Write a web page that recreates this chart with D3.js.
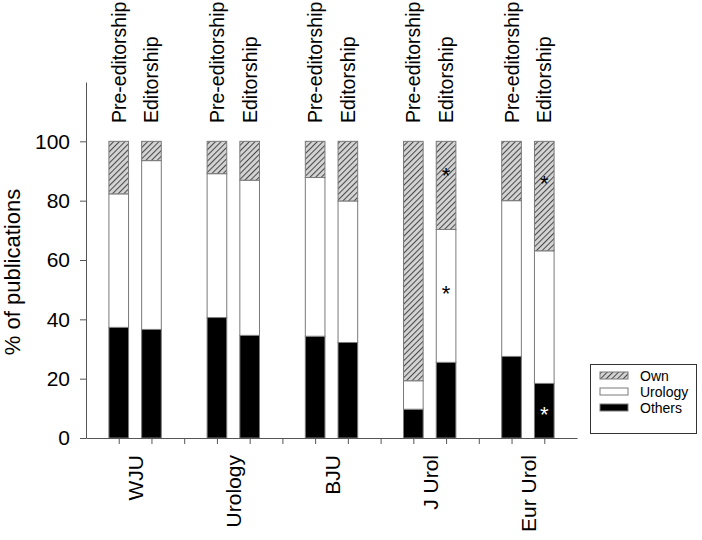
<!DOCTYPE html>
<html>
<head>
<meta charset="utf-8">
<script src="https://cdn.jsdelivr.net/npm/d3@7"></script>
<style>
    body { margin: 0; background: #fff; }
    text { font-family: "Liberation Sans", Arial, sans-serif; }
</style>
</head>
<body>
<svg id="chart" width="702" height="540"></svg>
<script>
// Journals and periods
const journals = ['WJU', 'Urology', 'BJU', 'J Urol', 'Eur Urol'];
const periods = ['Pre-editorship', 'Editorship'];
const keys = ['Others', 'Urology', 'Own'];

// % of publications, one value per bar (journal x period)
const others  = [37.3, 36.6, 40.6, 34.6, 34.3, 32.2, 9.7, 25.5, 27.5, 18.4];
const urology = [45.0, 56.9, 48.5, 52.3, 53.5, 47.7, 9.6, 44.8, 52.5, 44.7];
const own     = [17.7, 6.5, 10.9, 13.1, 12.2, 20.1, 80.7, 29.7, 20.0, 36.9];

const yTicks = [0, 20, 40, 60, 80, 100];

// significance markers: bar index, segment, height
const starBar = [7, 7, 9, 9];
const starSeg = ['Own', 'Urology', 'Own', 'Others'];
const starVal = [89.6, 49.8, 86.9, 9.1];

const svg = d3.select('#chart');

// each journal takes 3 slots: two bars and a gap
const barPos = i => Math.floor(i / 2) * 3 + (i % 2) + 1;

const rows = others.map((v, i) => ({
    journal: journals[Math.floor(i / 2)],
    period: periods[i % 2],
    pos: barPos(i),
    Others: v,
    Urology: urology[i],
    Own: own[i],
}));

const x = d3.scaleLinear().domain([0, 15]).range([86, 577]);
const y = d3.scaleLinear().domain([0, 120]).range([438, 82]);
const bw = (x(1) - x(0)) * 0.6;

// hatch pattern for "Own"
const defs = svg.append('defs');
const pat = defs.append('pattern')
    .attr('id', 'hatch')
    .attr('patternUnits', 'userSpaceOnUse')
    .attr('width', 4).attr('height', 4)
    .attr('patternTransform', 'rotate(45)');
pat.append('rect').attr('width', 4).attr('height', 4).attr('fill', '#d4d4d4');
pat.append('line').attr('x1', 0.5).attr('y1', 0).attr('x2', 0.5).attr('y2', 4)
    .attr('stroke', '#4a4a4a').attr('stroke-width', 1.1);

const fills = { Others: '#000', Urology: '#fff', Own: 'url(#hatch)' };

const stacked = d3.stack().keys(keys)(rows);

svg.append('g')
    .selectAll('g')
    .data(stacked)
    .join('g')
    .attr('fill', d => fills[d.key])
    .selectAll('rect')
    .data(d => d)
    .join('rect')
    .attr('x', d => x(d.data.pos) - bw / 2)
    .attr('y', d => y(d[1]))
    .attr('width', bw)
    .attr('height', d => y(d[0]) - y(d[1]))
    .attr('stroke', '#7a7a7a')
    .attr('stroke-width', 1);

// axes
const yAxis = svg.append('g')
    .attr('transform', `translate(${x(0)},0)`)
    .call(d3.axisLeft(y).tickValues(yTicks).tickSize(6).tickPadding(10).tickSizeOuter(0));
yAxis.select('.domain').attr('stroke', '#555');
yAxis.selectAll('.tick line').attr('stroke', '#555');
yAxis.selectAll('.tick text').attr('font-size', 21).attr('fill', '#000')
    .attr('font-family', '"Liberation Sans", Arial, sans-serif');

const xAxis = svg.append('g')
    .attr('transform', `translate(0,${y(0)})`)
    .call(d3.axisBottom(x).tickValues(d3.range(1, 15)).tickSize(6).tickSizeOuter(0).tickFormat(''));
xAxis.select('.domain').attr('stroke', '#555');
xAxis.selectAll('.tick line').attr('stroke', '#555');

// period labels above bars
svg.append('g')
    .selectAll('text')
    .data(rows)
    .join('text')
    .attr('transform', d => `translate(${x(d.pos) + 7},123) rotate(-90)`)
    .attr('font-size', 19.5)
    .attr('fill', '#000')
    .text(d => d.period);

// journal labels below axis
svg.append('g')
    .selectAll('text')
    .data(journals)
    .join('text')
    .attr('transform', (d, i) => `translate(${x(i * 3 + 1.5) + 8},455) rotate(-90)`)
    .attr('text-anchor', 'end')
    .attr('font-size', 21)
    .attr('fill', '#000')
    .text(d => d);

// y title
svg.append('text')
    .attr('transform', 'translate(20,272) rotate(-90)')
    .attr('text-anchor', 'middle')
    .attr('font-size', 22)
    .attr('fill', '#000')
    .text('% of publications');

// asterisks
svg.append('g')
    .selectAll('text')
    .data(starBar)
    .join('text')
    .attr('x', d => x(barPos(d)))
    .attr('y', (d, i) => y(starVal[i]) + 11)
    .attr('text-anchor', 'middle')
    .attr('font-size', 22)
    .attr('fill', (d, i) => starSeg[i] === 'Others' ? '#fff' : '#000')
    .text('*');

// legend
const lg = svg.append('g');
lg.append('rect')
    .attr('x', 590.5).attr('y', 364.5)
    .attr('width', 106).attr('height', 69)
    .attr('fill', '#fff').attr('stroke', '#333');
const legendKeys = keys.slice().reverse();
legendKeys.forEach((k, i) => {
    const yy = 372 + i * 16;
    lg.append('rect')
        .attr('x', 600).attr('y', yy)
        .attr('width', 28).attr('height', 7)
        .attr('fill', fills[k]).attr('stroke', '#7a7a7a');
    lg.append('text')
        .attr('x', 640).attr('y', yy + 3.5)
        .attr('dy', '0.36em')
        .attr('font-size', 14)
        .attr('fill', '#000')
        .text(k);
});
</script>
</body>
</html>
